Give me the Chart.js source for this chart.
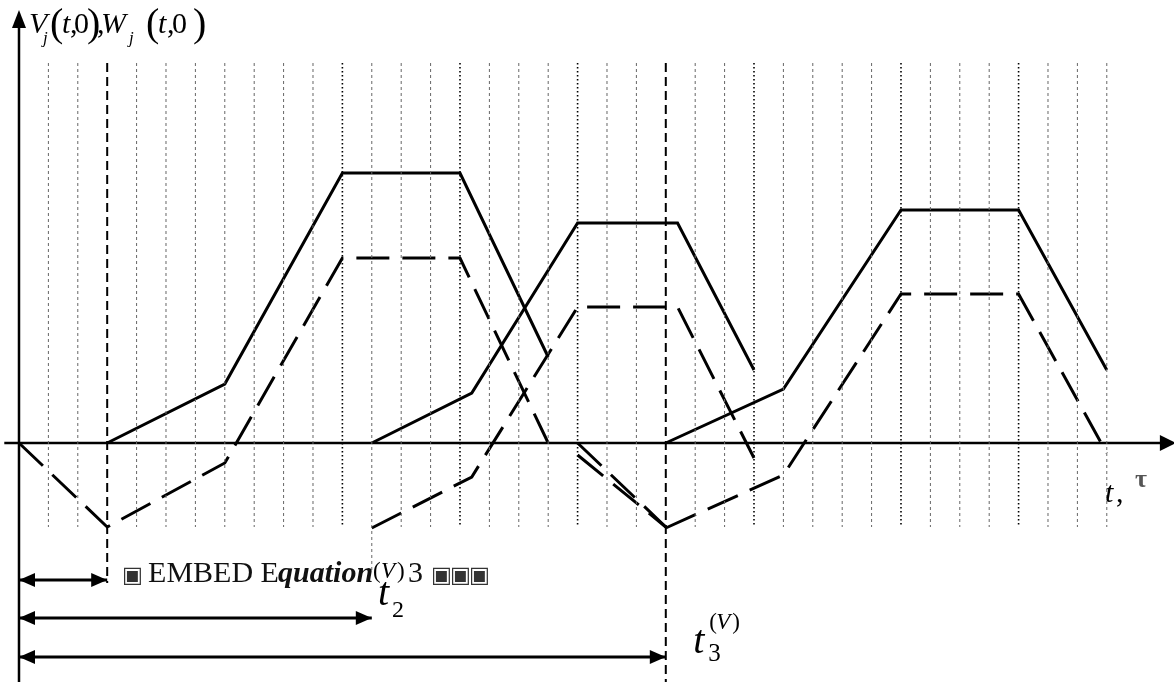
<!DOCTYPE html>
<html>
<head>
<meta charset="utf-8">
<script src="https://cdn.jsdelivr.net/npm/chart.js@4"></script>
<style>
  html, body { margin: 0; padding: 0; background: #fff; }
  canvas { display: block; }
</style>
</head>
<body>
<canvas id="pulseChart" width="1174" height="682"></canvas>
<script>
// t in grid steps, values in arbitrary units (axis = 0)
const tV1 = [3, 7, 11, 15, 18];
const V1 = [0, 5.9, 27.0, 27.0, 8.6];
const tW1 = [0, 3, 7, 11, 15, 18];
const W1 = [0, -8.4, -2.0, 18.5, 18.5, 0];
const tW1c = [19, 22];
const W1c = [0, -8.4];
const tW1b = [19, 22];
const W1b = [-1.2, -8.4];

const tV2 = [12, 15.4, 19, 22.4, 25];
const V2 = [0, 5.0, 22.0, 22.0, 7.3];
const tW2 = [12, 15.4, 19, 22.4, 25];
const W2 = [-8.5, -3.4, 13.6, 13.6, -1.5];

const tV3 = [22, 26, 30, 34, 37];
const V3 = [0, 5.4, 23.3, 23.3, 7.3];
const tW3 = [22, 26, 30, 34, 37];
const W3 = [-8.5, -3.2, 14.9, 14.9, -1.0];

// t1, t2, t3 and the rows of their span arrows
const tMarks = [3, 12, 22];
const spanRows = [-13.7, -17.5, -21.4];

// dotted time grid
const gridTicks = [1, 2, 4, 5, 6, 7, 8, 9, 10, 11, 13, 14, 15, 16, 17, 18, 19, 20, 21,
                   23, 24, 25, 26, 27, 28, 29, 30, 31, 32, 33, 34, 35, 36, 37];
const gridStrong = [11, 15, 19, 25, 30, 34];

const GRID_TOP = 38.0;
const GRID_BOTTOM = -8.4;
const SERIF = '"Liberation Serif", "Times New Roman", serif';

function pts(xs, ys) {
    return xs.map((x, i) => ({ x: x, y: ys[i] }));
}

function vLines(ticks, top, bottom) {
    const out = [];
    ticks.forEach(k => {
        out.push({ x: k, y: top }, { x: k, y: bottom }, { x: k, y: null });
    });
    return out;
}

function solid(data) {
    return { data: data, borderColor: '#000', borderWidth: 3, borderJoinStyle: 'miter' };
}

function dashed(data) {
    return { data: data, borderColor: '#000', borderWidth: 3, borderDash: [33, 13], borderJoinStyle: 'miter' };
}

function buildDatasets() {
    const plainTicks = gridTicks.filter(k => !gridStrong.includes(k) && k !== tMarks[1]);
    const ds = [
        { data: vLines(plainTicks, GRID_TOP, GRID_BOTTOM), borderColor: '#666', borderWidth: 1, borderDash: [3, 3], spanGaps: false },
        { data: vLines(gridStrong, GRID_TOP, GRID_BOTTOM), borderColor: '#000', borderWidth: 1.6, borderDash: [1.5, 2.5], spanGaps: false },
        { data: vLines([tMarks[1]], GRID_TOP, -12.7), borderColor: '#666', borderWidth: 1, borderDash: [3, 3] },
        { data: vLines([tMarks[0]], GRID_TOP, -14.0), borderColor: '#000', borderWidth: 2, borderDash: [9, 5] },
        { data: vLines([tMarks[2]], GRID_TOP, -23.9), borderColor: '#000', borderWidth: 2, borderDash: [9, 5] },
        // axes
        { data: [{ x: -0.5, y: 0 }, { x: 38.9, y: 0 }], borderColor: '#000', borderWidth: 2.5 },
        { data: [{ x: 0, y: -23.9 }, { x: 0, y: 41.8 }], borderColor: '#000', borderWidth: 2.5 },
        solid(pts(tV1, V1)), dashed(pts(tW1, W1)), dashed(pts(tW1c, W1c)), dashed(pts(tW1b, W1b)),
        solid(pts(tV2, V2)), dashed(pts(tW2, W2)),
        solid(pts(tV3, V3)), dashed(pts(tW3, W3))
    ];
    tMarks.forEach((t, i) => {
        ds.push({ data: [{ x: 0, y: spanRows[i] }, { x: t, y: spanRows[i] }], borderColor: '#000', borderWidth: 3 });
    });
    return ds;
}

function head(ctx, tx, ty, dx, dy, len, half) {
    const bx = tx - dx * len, by = ty - dy * len;
    ctx.beginPath();
    ctx.moveTo(tx, ty);
    ctx.lineTo(bx - dy * half, by + dx * half);
    ctx.lineTo(bx + dy * half, by - dx * half);
    ctx.closePath();
    ctx.fill();
}

// text pieces: [text, dx px, dy px, font, colour]
const axisTitle = [
    ['V', 0, 0, 'italic 30px'], ['j', 14, 10, 'italic 17px'], ['(', 21, 3, '40px'],
    ['t', 33, 0, 'italic 30px'], [',', 41, 0, '30px'], ['0', 45, 0, '30px'], [')', 58, 3, '40px'],
    [',', 68, 0, '30px'], ['W', 72, 0, 'italic 30px'], ['j', 100, 10, 'italic 17px'],
    ['(', 117, 3, '40px'], ['t', 129, 0, 'italic 30px'], [',', 138, 0, '30px'],
    ['0', 143, 0, '30px'], [')', 164, 3, '40px']
];
const BOX = '22px "DejaVu Sans"';
const embedText = [
    ['\u25A3', -1, 0, BOX, '#333'], ['EMBED E', 25, 0, '30px', '#111'],
    ['quation', 155, 0, 'bold italic 30px', '#111'], ['3', 285, 0, '30px', '#111'],
    ['\u25A3', 308, 0, BOX, '#333'], ['\u25A3', 327, 0, BOX, '#333'],
    ['\u25A3', 346, 0, BOX, '#333']
];
const t2Label = [
    ['t', 0, 0, 'italic 40px'], ['2', 14, 12, '24px'],
    ['(', -5, -27, '23px'], ['V', 3, -27, 'italic 23px'], [')', 19, -27, '23px']
];
const t3Label = [
    ['t', 0, 0, 'italic 40px'], ['3', 15, 8, '25px'],
    ['(', 16, -24, '23px'], ['V', 23, -24, 'italic 23px'], [')', 39, -24, '23px']
];
const tAxisLabel = [
    ['t', 0, 0, 'italic 30px'], [',', 11, 0, '30px'], ['\u03C4', 30, -15, 'bold 26px', '#555']
];

function drawPieces(ctx, x0, y0, pieces) {
    pieces.forEach(p => {
        let font = p[3];
        if (!font.includes('"')) font += ' ' + SERIF;
        ctx.font = font;
        ctx.fillStyle = p[4] || '#000';
        ctx.fillText(p[0], x0 + p[1], y0 + p[2]);
    });
}

const overlay = {
    id: 'overlay',
    afterDatasetsDraw(chart) {
        const ctx = chart.ctx;
        const xs = chart.scales.x, ys = chart.scales.y;
        const px = v => xs.getPixelForValue(v);
        const py = v => ys.getPixelForValue(v);
        ctx.save();
        ctx.fillStyle = '#000';
        // axis arrows
        head(ctx, px(39.35), py(0), 1, 0, 16, 8);
        head(ctx, px(0), py(43.3), 0, -1, 18, 7);
        // span arrows
        tMarks.forEach((t, i) => {
            head(ctx, px(0), py(spanRows[i]), -1, 0, 16, 7);
            head(ctx, px(t), py(spanRows[i]), 1, 0, 16, 7);
        });
        ctx.textBaseline = 'alphabetic';
        ctx.textAlign = 'left';
        drawPieces(ctx, px(0.34), py(41.0), axisTitle);
        drawPieces(ctx, px(3.54), py(-13.9), embedText);
        drawPieces(ctx, px(12.21), py(-16.2), t2Label);
        drawPieces(ctx, px(22.93), py(-21.0), t3Label);
        drawPieces(ctx, px(36.94), py(-5.9), tAxisLabel);
        ctx.restore();
    }
};

document.addEventListener('DOMContentLoaded', () => {
    const ctx = document.getElementById('pulseChart').getContext('2d');
    new Chart(ctx, {
        type: 'line',
        data: { datasets: buildDatasets() },
        options: {
            responsive: false,
            animation: false,
            layout: { padding: 0 },
            elements: { point: { radius: 0 }, line: { tension: 0, borderCapStyle: 'butt' } },
            plugins: { legend: { display: false }, tooltip: { enabled: false } },
            scales: {
                x: { type: 'linear', min: -0.646, max: 39.286, bounds: 'data', display: false },
                y: { type: 'linear', min: -23.9, max: 44.3, bounds: 'data', display: false }
            }
        },
        plugins: [overlay]
    });
});
</script>
</body>
</html>
